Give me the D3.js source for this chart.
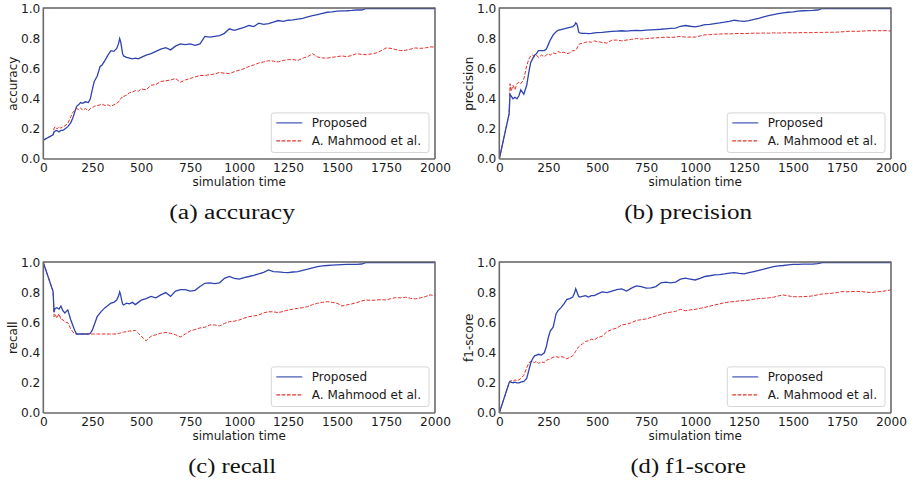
<!DOCTYPE html>
<html><head><meta charset="utf-8">
<script src="https://cdn.jsdelivr.net/npm/d3@7"></script>
<style>body{margin:0;background:#fff}svg{display:block}</style>
</head><body>
<svg id="chart" width="915" height="482"></svg>
<script>
// ---------- data ----------
const TIME = [
0,50,55,60,70,80,90,100,110,125,
140,150,160,170,180,190,200,215,230,240,
250,260,275,290,300,315,330,345,360,375,
385,390,395,400,405,410,425,440,455,470,
485,500,525,550,575,600,625,650,675,700,
725,750,775,800,825,850,875,900,925,950,
975,1000,1025,1050,1075,1100,1125,1150,1175,1200,
1225,1250,1275,1300,1325,1350,1375,1400,1425,1450,
1475,1500,1525,1550,1575,1600,1625,1650,1675,1700,
1725,1750,1775,1800,1825,1850,1875,1900,1925,1950,
1975,2000];

const X_TICKS = [0,250,500,750,1000,1250,1500,1750,2000];
const Y_TICKS = [0,0.2,0.4,0.6,0.8,1.0];
const SERIES_NAMES = ["Proposed","A. Mahmood et al."];
const METRIC_LABELS = ["accuracy","precision","recall","f1-score"];
const CAPTIONS = ["(a) accuracy","(b) precision","(c) recall","(d) f1-score"];
const X_LABEL = "simulation time";

const accuracyProposed = [
0.125,0.16,0.18,0.185,0.19,0.18,0.19,0.19,0.20,0.215,
0.24,0.27,0.31,0.35,0.36,0.375,0.37,0.38,0.375,0.40,
0.46,0.515,0.55,0.615,0.625,0.655,0.69,0.72,0.715,0.735,
0.77,0.80,0.78,0.74,0.70,0.685,0.675,0.67,0.665,0.67,
0.665,0.675,
0.69,0.70,0.715,0.73,0.74,0.725,0.75,0.765,0.76,0.765,
0.755,0.765,0.815,0.81,0.815,0.82,0.835,0.865,0.855,0.865,
0.875,0.887,0.88,0.903,0.895,0.90,0.91,0.92,0.915,0.922,
0.925,0.93,0.935,0.944,0.952,0.96,0.968,0.975,0.978,0.982,
0.984,0.985,0.987,0.99,0.99,1,1,1,1,1,
1,1,1,1,1,1,1,1,1,1];
const accuracyBaseline = [
0.125,0.16,0.205,0.215,0.20,0.215,0.205,0.215,0.22,0.235,
0.28,0.31,0.32,0.335,0.33,0.34,0.325,0.335,0.32,0.335,
0.34,0.35,0.355,0.36,0.365,0.355,0.36,0.35,0.36,0.37,
0.38,0.39,0.40,0.41,0.405,0.415,0.425,0.44,0.445,0.455,
0.45,0.465,
0.46,0.49,0.495,0.515,0.52,0.525,0.535,0.51,0.525,0.535,
0.545,0.555,0.555,0.56,0.565,0.575,0.57,0.567,0.58,0.59,
0.60,0.615,0.625,0.638,0.645,0.653,0.65,0.645,0.655,0.66,
0.66,0.655,0.67,0.68,0.70,0.678,0.672,0.67,0.676,0.68,
0.685,0.68,0.688,0.70,0.695,0.693,0.698,0.705,0.72,0.738,
0.735,0.727,0.72,0.722,0.73,0.738,0.735,0.738,0.745,0.744];

const precisionProposed = [
0,0.30,0.43,0.42,0.40,0.41,0.40,0.42,0.46,0.43,
0.49,0.57,0.64,0.665,0.69,0.70,0.72,0.72,0.72,0.73,
0.76,0.79,0.825,0.845,0.855,0.86,0.865,0.87,0.875,0.88,
0.89,0.905,0.90,0.88,0.845,0.838,0.835,0.835,0.833,0.835,
0.838,0.84,
0.842,0.845,0.848,0.85,0.852,0.85,0.853,0.855,0.853,0.856,
0.858,0.86,0.862,0.865,0.868,0.87,0.882,0.887,0.882,0.878,
0.885,0.893,0.895,0.90,0.904,0.909,0.915,0.922,0.918,0.915,
0.92,0.927,0.935,0.944,0.952,0.96,0.966,0.971,0.975,0.978,
0.982,0.985,0.986,0.987,0.99,1,1,1,1,1,
1,1,1,1,1,1,1,1,1,1];
const precisionBaseline = [
0,0.30,0.50,0.45,0.49,0.46,0.50,0.51,0.50,0.53,
0.62,0.66,0.685,0.69,0.68,0.69,0.675,0.69,0.68,0.69,
0.70,0.69,0.705,0.70,0.715,0.705,0.71,0.70,0.705,0.72,
0.72,0.725,0.73,0.745,0.755,0.765,0.77,0.775,0.78,0.775,
0.785,0.78,
0.775,0.77,0.79,0.79,0.785,0.79,0.795,0.80,0.797,0.80,
0.803,0.805,0.807,0.81,0.808,0.81,0.815,0.81,0.81,0.81,
0.818,0.825,0.826,0.829,0.83,0.832,0.831,0.833,0.834,0.833,
0.835,0.836,0.836,0.837,0.836,0.838,0.837,0.838,0.839,0.838,
0.839,0.84,0.839,0.84,0.841,0.841,0.842,0.842,0.843,0.845,
0.848,0.849,0.848,0.85,0.851,0.853,0.852,0.852,0.853,0.85];

const recallProposed = [
1.0,0.807,0.67,0.695,0.70,0.69,0.71,0.68,0.665,0.685,
0.62,0.585,0.55,0.525,0.525,0.525,0.525,0.525,0.525,0.53,
0.55,0.585,0.64,0.665,0.68,0.70,0.715,0.73,0.735,0.75,
0.78,0.805,0.785,0.75,0.725,0.718,0.73,0.725,0.735,0.72,
0.735,0.75,
0.76,0.775,0.765,0.785,0.80,0.775,0.81,0.82,0.82,0.81,
0.815,0.84,0.862,0.865,0.86,0.865,0.895,0.907,0.895,0.889,
0.90,0.907,0.915,0.924,0.935,0.951,0.94,0.938,0.935,0.933,
0.937,0.94,0.948,0.956,0.965,0.973,0.977,0.98,0.982,0.984,
0.986,0.987,0.987,0.987,0.99,1,1,1,1,1,
1,1,1,1,1,1,1,1,1,1];
const recallBaseline = [
1.0,0.807,0.64,0.655,0.63,0.66,0.62,0.62,0.605,0.60,
0.56,0.54,0.527,0.525,0.525,0.525,0.525,0.525,0.525,0.525,
0.525,0.525,0.525,0.525,0.525,0.525,0.525,0.525,0.525,0.525,
0.528,0.53,0.532,0.535,0.535,0.538,0.54,0.545,0.545,0.55,
0.53,0.51,
0.48,0.51,0.52,0.53,0.535,0.53,0.52,0.505,0.525,0.545,
0.555,0.565,0.57,0.585,0.585,0.578,0.595,0.607,0.61,0.618,
0.63,0.64,0.645,0.651,0.665,0.673,0.672,0.667,0.675,0.684,
0.69,0.696,0.70,0.707,0.72,0.729,0.735,0.74,0.735,0.729,
0.711,0.718,0.725,0.733,0.745,0.751,0.748,0.751,0.753,0.751,
0.76,0.767,0.765,0.769,0.762,0.758,0.765,0.773,0.785,0.778];

const f1Proposed = [
0,0.20,0.21,0.205,0.20,0.205,0.20,0.20,0.205,0.21,
0.23,0.28,0.33,0.36,0.38,0.385,0.39,0.385,0.40,0.44,
0.50,0.545,0.57,0.66,0.68,0.70,0.725,0.755,0.76,0.77,
0.80,0.825,0.81,0.79,0.775,0.77,0.775,0.78,0.77,0.78,
0.78,0.79,
0.805,0.80,0.81,0.82,0.825,0.81,0.83,0.845,0.84,0.83,
0.832,0.84,0.865,0.87,0.865,0.87,0.889,0.896,0.89,0.884,
0.895,0.907,0.912,0.918,0.92,0.924,0.93,0.933,0.928,0.924,
0.932,0.94,0.948,0.956,0.965,0.973,0.977,0.98,0.984,0.987,
0.988,0.989,0.989,0.989,0.992,1,1,1,1,1,
1,1,1,1,1,1,1,1,1,1];
const f1Baseline = [
0,0.20,0.21,0.215,0.21,0.22,0.215,0.22,0.23,0.25,
0.30,0.33,0.345,0.34,0.335,0.345,0.33,0.34,0.335,0.35,
0.355,0.36,0.37,0.375,0.37,0.375,0.37,0.36,0.37,0.38,
0.40,0.41,0.42,0.43,0.44,0.445,0.46,0.475,0.48,0.49,
0.485,0.50,
0.51,0.54,0.555,0.565,0.585,0.59,0.60,0.615,0.62,0.625,
0.635,0.645,0.655,0.665,0.67,0.675,0.689,0.68,0.685,0.689,
0.695,0.702,0.71,0.718,0.725,0.733,0.738,0.74,0.745,0.747,
0.75,0.756,0.76,0.762,0.765,0.769,0.778,0.784,0.778,0.773,
0.772,0.773,0.775,0.778,0.785,0.791,0.793,0.796,0.80,0.807,
0.805,0.807,0.808,0.807,0.803,0.80,0.805,0.807,0.812,0.818];

const PANEL_SERIES = [
  [accuracyProposed, accuracyBaseline],
  [precisionProposed, precisionBaseline],
  [recallProposed, recallBaseline],
  [f1Proposed, f1Baseline]
];

// ---------- layout / style ----------
const BLUE = "#2f44ae", RED = "#e6302a";
const FONT = "'DejaVu Sans', sans-serif";
const PW = 391.7, PH = 150.5;
const ORIGINS = [[43.3, 8.5],[499.3, 8.5],[43.3, 262.5],[499.3, 262.5]];
const CAPTION_W = [125.7, 127.8, 88, 115.5];

const svg = d3.select("#chart");
const x = d3.scaleLinear().domain([0, 2000]).range([0, PW]);
const y = d3.scaleLinear().domain([0, 1]).range([PH, 0]);

ORIGINS.forEach(([ox, oy], k) => {
  const g = svg.append("g").attr("transform", `translate(${ox},${oy})`);
  const clipId = "clip" + k;
  g.append("clipPath").attr("id", clipId)
    .append("rect").attr("x", 0).attr("y", 0).attr("width", PW).attr("height", PH);

  const line = d3.line().x((d, i) => x(TIME[i])).y(d => y(d));
  const [prop, base] = PANEL_SERIES[k];
  const plot = g.append("g").attr("clip-path", `url(#${clipId})`);
  plot.append("path").datum(base).attr("d", line)
    .attr("fill", "none").attr("stroke", RED).attr("stroke-width", 1)
    .attr("stroke-dasharray", "3.7,1.6");
  plot.append("path").datum(prop).attr("d", line)
    .attr("fill", "none").attr("stroke", BLUE).attr("stroke-width", 1.3);

  // axes
  const ax = g.append("g").attr("transform", `translate(0,${PH})`)
    .call(d3.axisBottom(x).tickValues(X_TICKS).tickFormat(d3.format("d")).tickSize(0).tickPadding(4.6));
  const ay = g.append("g")
    .call(d3.axisLeft(y).tickValues(Y_TICKS).tickFormat(d3.format(".1f")).tickSize(0).tickPadding(3));
  [ax, ay].forEach(a => {
    a.select(".domain").remove();
    a.attr("font-family", FONT).attr("font-size", 12.2);
    a.selectAll("text").attr("fill", "#1a1a1a");
  });

  // spines
  const sp = g.append("g").attr("fill", "none");
  sp.append("line").attr("x1", 0).attr("x2", PW).attr("y1", -0.5).attr("y2", -0.5)
    .attr("stroke", "#111").attr("stroke-width", 1);
  sp.append("line").attr("x1", 0).attr("x2", 0).attr("y1", -1).attr("y2", PH)
    .attr("stroke", "#6a6a6a").attr("stroke-width", 1.6);
  sp.append("line").attr("x1", PW).attr("x2", PW).attr("y1", -1).attr("y2", PH)
    .attr("stroke", "#6a6a6a").attr("stroke-width", 1.6);
  sp.append("line").attr("x1", 0).attr("x2", PW).attr("y1", PH).attr("y2", PH)
    .attr("stroke", "#6a6a6a").attr("stroke-width", 1.6);

  // axis labels
  g.append("text").attr("x", PW / 2).attr("y", PH + 27.3)
    .attr("text-anchor", "middle").attr("font-family", FONT).attr("font-size", 12)
    .attr("fill", "#1a1a1a").text(X_LABEL);
  g.append("text").attr("transform", `translate(-26.6,${PH / 2}) rotate(-90)`)
    .attr("text-anchor", "middle").attr("font-family", FONT).attr("font-size", 12)
    .attr("fill", "#1a1a1a").text(METRIC_LABELS[k]);

  // legend
  const lw = 157.7, lh = 39.6;
  const lg = g.append("g").attr("transform", `translate(${PW - 6 - lw},${PH - 6.5 - lh})`);
  lg.append("rect").attr("width", lw).attr("height", lh).attr("rx", 2.5)
    .attr("fill", "#fff").attr("fill-opacity", 0.85).attr("stroke", "#d6d6d6").attr("stroke-width", 1);
  [[BLUE, null], [RED, "3.7,1.6"]].forEach(([c, dash], i) => {
    const yy = 10 + i * 18;
    const l = lg.append("line").attr("x1", 5).attr("x2", 31).attr("y1", yy).attr("y2", yy)
      .attr("stroke", c).attr("stroke-width", 1.1);
    if (dash) l.attr("stroke-dasharray", dash);
    lg.append("text").attr("x", 40.5).attr("y", yy + 4.3)
      .attr("font-family", FONT).attr("font-size", 12).attr("fill", "#1a1a1a")
      .text(SERIES_NAMES[i]);
  });

  // caption
  svg.append("text").attr("x", ox + PW / 2 - 7).attr("y", oy + PH + 59.5)
    .attr("text-anchor", "middle").attr("font-family", "'Liberation Serif', serif")
    .attr("font-size", 20).attr("fill", "#111")
    .attr("textLength", CAPTION_W[k]).attr("lengthAdjust", "spacingAndGlyphs")
    .text(CAPTIONS[k]);
});
</script>
</body></html>
